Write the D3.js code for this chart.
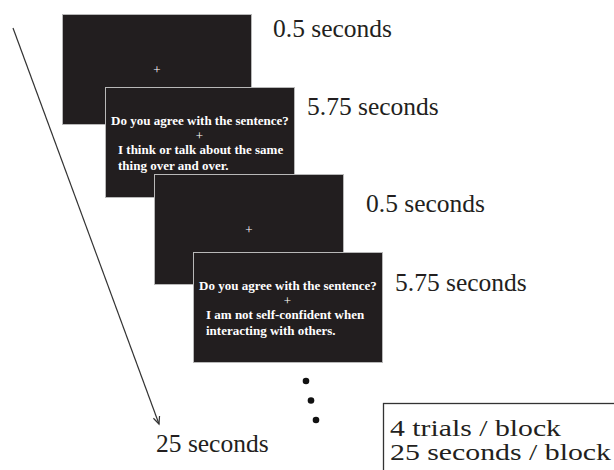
<!DOCTYPE html>
<html>
<head>
<meta charset="utf-8">
<script src="https://cdn.jsdelivr.net/npm/d3@7"></script>
<style>
  html, body { margin: 0; padding: 0; background: #fff; }
  svg { display: block; }
</style>
</head>
<body>
<svg id="chart" width="614" height="470"></svg>
<script>
// ---- data ----
const trialIndex   = [0, 1, 2, 3];
const screenKinds  = ["fixation", "sentence", "fixation", "sentence"];
const durationLabels = ["0.5 seconds", "5.75 seconds", "0.5 seconds", "5.75 seconds"];
const questionText = "Do you agree with the sentence?";
const fixationMark = "+";
const statements = [
  [],
  ["I think or talk about the same", "thing over and over."],
  [],
  ["I am not self-confident when", "interacting with others."]
];
const continuationDots = [0, 1, 2];
const blockDurationLabel = "25 seconds";
const legendLines = ["4 trials / block", "25 seconds / block"];

// ---- layout (scales mapping trial index to screen positions) ----
const boxW = 190, boxH = 111;
const xBox = d3.scaleOrdinal().domain(trialIndex).range([62, 105, 154, 193]);
const yBox = d3.scaleOrdinal().domain(trialIndex).range([14, 87, 174, 252]);
const xLabel = d3.scaleOrdinal().domain(trialIndex).range([273, 307, 366, 395]);
const yLabel = d3.scaleOrdinal().domain(trialIndex).range([37, 115, 212, 291]);
const dotX = d3.scaleLinear().domain([0, 2]).range([306, 316]);
const dotY = d3.scaleLinear().domain([0, 2]).range([381, 420]);
const legendY = d3.scaleLinear().domain([0, 1]).range([436, 459.5]);
const legendWidths = [171, 221];

const svg = d3.select("#chart");
const serif = "'Liberation Serif', 'Times New Roman', Times, serif";
const ink = "#231f20";

// ---- timeline arrow ----
const a0 = [13, 28], a1 = [159, 424];
svg.append("line")
  .attr("x1", a0[0]).attr("y1", a0[1]).attr("x2", a1[0]).attr("y2", a1[1])
  .attr("stroke", "#333").attr("stroke-width", 1.2);
const ang = Math.atan2(a1[1] - a0[1], a1[0] - a0[0]);
const headLen = 8, spread = 0.42;
const p1 = [a1[0] - headLen * Math.cos(ang - spread), a1[1] - headLen * Math.sin(ang - spread)];
const p2 = [a1[0] - headLen * Math.cos(ang + spread), a1[1] - headLen * Math.sin(ang + spread)];
svg.append("path")
  .attr("d", d3.line()([p1, a1, p2]))
  .attr("fill", "none").attr("stroke", "#333").attr("stroke-width", 1.2);

// ---- screens ----
const screens = svg.selectAll("g.screen")
  .data(trialIndex)
  .join("g")
  .attr("class", "screen")
  .attr("transform", i => `translate(${xBox(i)},${yBox(i)})`);

screens.append("rect")
  .attr("x", 0.5).attr("y", 0.5)
  .attr("width", boxW - 1).attr("height", boxH - 1)
  .attr("fill", "#221e1f")
  .attr("stroke", "#b8b8b8").attr("stroke-width", 1);

// fixation screens: centered plus
screens.filter(i => screenKinds[i] === "fixation")
  .append("text")
  .attr("x", boxW / 2).attr("y", boxH / 2 + 4.5)
  .attr("text-anchor", "middle")
  .attr("font-family", serif).attr("font-size", 13)
  .attr("fill", "#fff")
  .text(fixationMark);

// sentence screens
const sent = screens.filter(i => screenKinds[i] === "sentence");
sent.append("text")
  .attr("x", boxW / 2).attr("y", 37.5)
  .attr("text-anchor", "middle")
  .attr("font-family", serif).attr("font-size", 13).attr("font-weight", "bold")
  .attr("fill", "#fff")
  .text(questionText);
sent.append("text")
  .attr("x", boxW / 2 - 0.5).attr("y", 53)
  .attr("text-anchor", "middle")
  .attr("font-family", serif).attr("font-size", 13)
  .attr("fill", "#fff")
  .text(fixationMark);
sent.each(function(i) {
  d3.select(this).selectAll("text.stmt")
    .data(statements[i])
    .join("text")
    .attr("class", "stmt")
    .attr("x", 13)
    .attr("y", (d, k) => 67 + k * 16)
    .attr("font-family", serif).attr("font-size", 13).attr("font-weight", "bold")
    .attr("fill", "#fff")
    .text(d => d);
});

// ---- duration labels ----
svg.selectAll("text.dur")
  .data(trialIndex)
  .join("text")
  .attr("class", "dur")
  .attr("x", i => xLabel(i)).attr("y", i => yLabel(i))
  .attr("font-family", serif).attr("font-size", 25.5)
  .attr("fill", ink)
  .text(i => durationLabels[i]);

// ---- continuation dots ----
svg.selectAll("circle.dot")
  .data(continuationDots)
  .join("circle")
  .attr("class", "dot")
  .attr("cx", d => dotX(d)).attr("cy", d => dotY(d))
  .attr("r", 3.3)
  .attr("fill", "#111");

// ---- block duration ----
svg.append("text")
  .attr("x", 156).attr("y", 452)
  .attr("font-family", serif).attr("font-size", 25.5)
  .attr("fill", ink)
  .text(blockDurationLabel);

// ---- legend box ----
svg.append("rect")
  .attr("x", 383.5).attr("y", 403.5)
  .attr("width", 240).attr("height", 80)
  .attr("fill", "none").attr("stroke", "#333").attr("stroke-width", 1.3);
svg.selectAll("text.legend")
  .data(legendLines)
  .join("text")
  .attr("class", "legend")
  .attr("x", 390).attr("y", (d, k) => legendY(k))
  .attr("font-family", serif).attr("font-size", 23)
  .attr("textLength", (d, k) => legendWidths[k])
  .attr("lengthAdjust", "spacingAndGlyphs")
  .attr("fill", ink)
  .text(d => d);
</script>
</body>
</html>
